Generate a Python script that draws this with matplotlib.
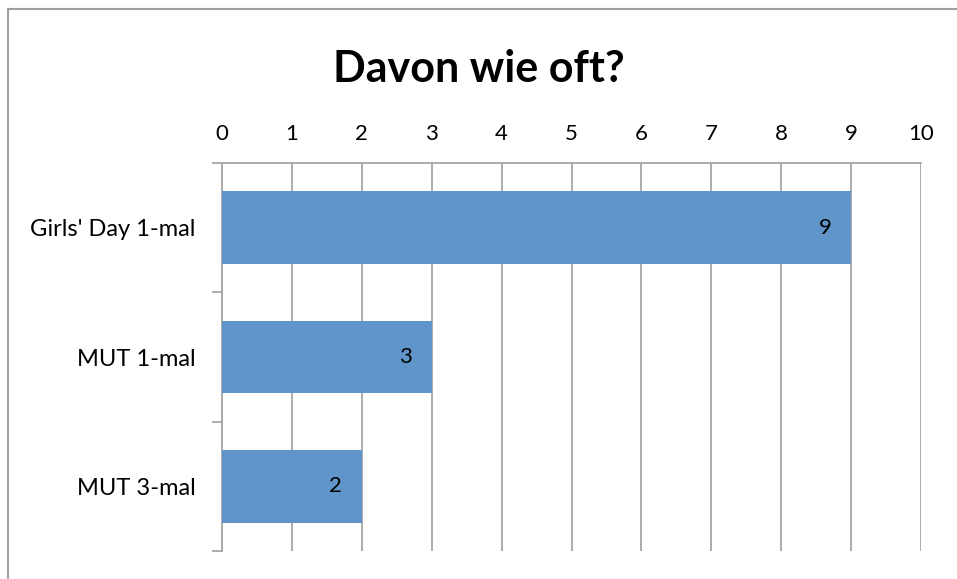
import numpy as np
import matplotlib.pyplot as plt
from matplotlib.patches import Rectangle

categories = ["Girls' Day 1-mal", "MUT 1-mal", "MUT 3-mal"]
counts = [9, 3, 2]
x_ticks = list(range(0, 11))

bar_color = '#6095CA'
grid_color = '#A6A6A6'

plt.rcParams['font.family'] = ['Lato', 'DejaVu Sans']

fig = plt.figure(figsize=(9.57, 5.79), dpi=100)
ax = fig.add_axes([222 / 957, 1 - 551 / 579, (921 - 222) / 957, (551 - 163) / 579])

pos = np.arange(len(categories))
bars = ax.barh(pos, counts, height=0.56, color=bar_color, zorder=3)

for y, v in zip(pos, counts):
    ax.annotate(str(v), (v, y), xytext=(-14, 0), textcoords='offset points',
                ha='right', va='center', fontsize=16, color='black', zorder=4)

ax.set_xlim(0, 10)
ax.set_ylim(len(categories) - 0.5, -0.5)
ax.set_xticks(x_ticks)
ax.xaxis.tick_top()
ax.tick_params(axis='x', length=0, pad=14, labelsize=16)
ax.xaxis.grid(True, color=grid_color, linewidth=1.3, zorder=0)

ax.set_yticks(pos)
ax.set_yticklabels(categories)
ax.set_yticks(np.arange(len(categories) + 1) - 0.5, minor=True)
ax.tick_params(axis='y', which='major', length=0, pad=19, labelsize=17)
ax.tick_params(axis='y', which='minor', length=7, width=1.3, color=grid_color)

for side in ['right', 'bottom']:
    ax.spines[side].set_visible(False)
for side in ['left', 'top']:
    ax.spines[side].set_color(grid_color)
    ax.spines[side].set_linewidth(1.3)

fig.text(0.5, 1 - 82 / 579, 'Davon wie oft?', ha='center', va='baseline',
         fontsize=31, fontweight='bold')

# outer chart frame (cut at right and bottom edges)
fig.patches.append(Rectangle((8 / 957, -0.1), 1.1, 1.1 - 9 / 579,
                             transform=fig.transFigure, fill=False,
                             edgecolor='#A0A0A0', linewidth=1.5))

fig.savefig('out.png', dpi=100)
